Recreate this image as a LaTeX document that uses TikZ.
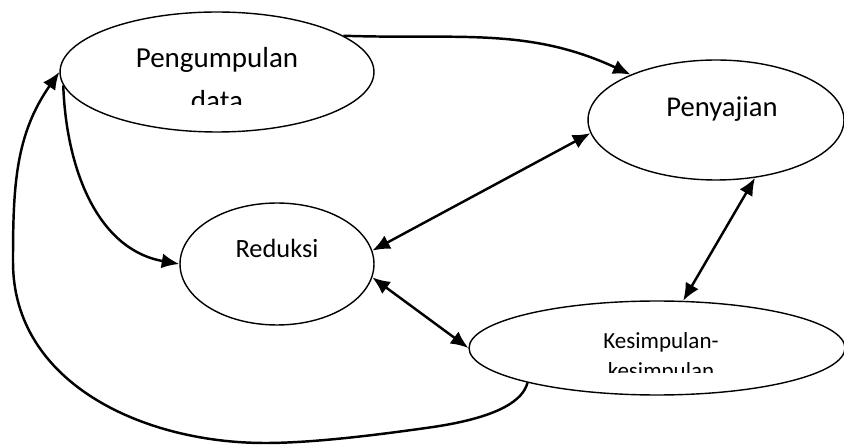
\documentclass[tikz,border=0pt]{standalone}
\usepackage{fontspec}
\setmainfont{Carlito}
\usetikzlibrary {arrows.meta, shapes.geometric, positioning}
\tikzset{
  >={Latex[length=10pt, width=8.5pt]}
}
\begin{document}
\begin{tikzpicture}[x=0.02cm, y=-0.02cm,
    oval/.style={draw, ellipse, line width=0.8pt, inner sep=0pt},
    flow/.style={line width=1.4pt}]
    \useasboundingbox (0, 0) rectangle (844, 445);
    % ovals
    \node[oval, minimum width=6.28cm, minimum height=2.4cm] (pd) at (217, 72) {};
    \node[oval, minimum width=5.12cm, minimum height=2.4cm] (pen) at (716, 120) {};
    \node[oval, minimum width=3.88cm, minimum height=2.44cm] (red) at (277, 264) {};
    \node[oval, minimum width=7.52cm, minimum height=1.88cm] (kes) at (657, 348) {};
    % texts (second lines cut off)
    \begin{scope}
        \clip (0, 0) rectangle (844, 105);
        \node[anchor=base, align=center, inner sep=0pt,
              font=\fontsize{16.5}{24.5}\selectfont] (pdtext) at (217, 111) {Pengumpulan\\data};
    \end{scope}
    \node[anchor=base, inner sep=0pt, font=\fontsize{16.3}{20}\selectfont] (pentext) at (722, 117) {Penyajian};
    \node[anchor=base, inner sep=0pt, font=\fontsize{15}{18}\selectfont] (redtext) at (277, 258) {Reduksi};
    \begin{scope}
        \clip (0, 0) rectangle (844, 372);
        \node[anchor=base, align=center, inner sep=0pt,
              font=\fontsize{13.1}{17}\selectfont] (kestext) at (661, 378) {Kesimpulan-\\kesimpulan};
    \end{scope}
    % connectors
    \draw[flow, ->] (pd.16) to[out=-2, in=155] (pen.152);
    \draw[flow, ->] (pd.185) to[out=-88, in=170] (red.180);
    \draw[flow, <->] (red.8) -- (pen.186);
    \draw[flow, <->] (red.-8) -- (kes.180);
    \draw[flow, <->] (pen.-56) -- (kes.61);
    \draw[flow, ->] (kes.195) .. controls (523, 400) and (500, 417) .. (433, 427)
        .. controls (370, 436) and (310, 443) .. (265, 443)
        to[out=180, in=-90] (13, 262) to[out=90, in=-125] (pd.180);
\end{tikzpicture}
\end{document}
